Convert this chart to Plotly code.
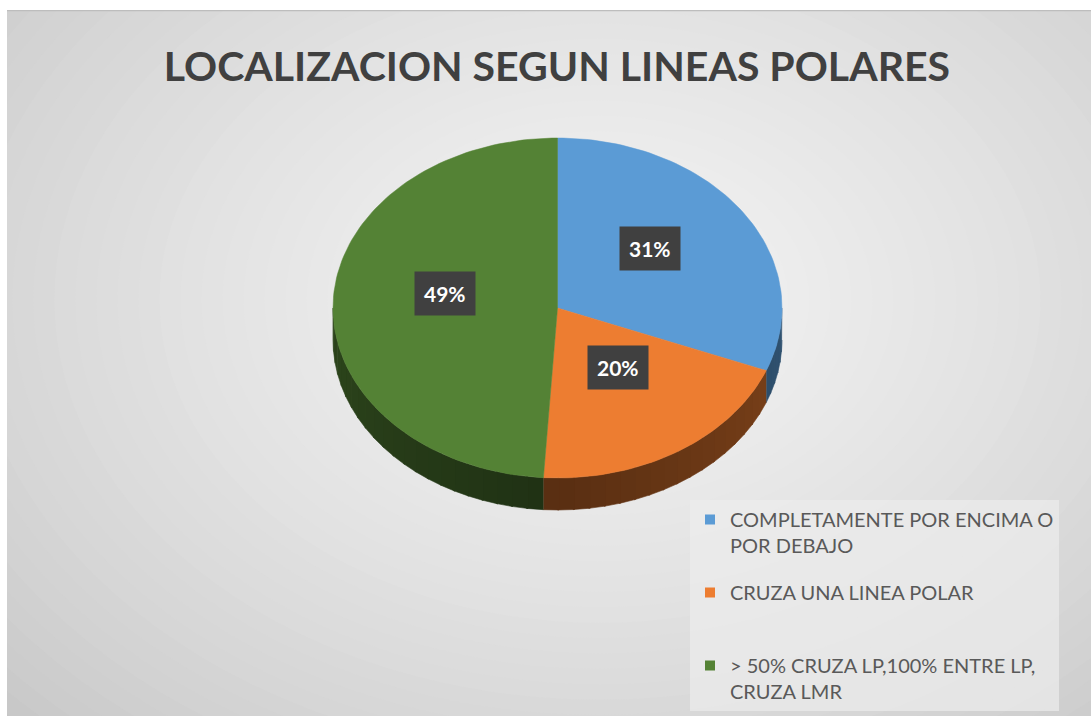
import math
import plotly.graph_objects as go

# ---- data ----
categories = ["COMPLETAMENTE POR ENCIMA O<br>POR DEBAJO",
              "CRUZA UNA LINEA POLAR<br>\u00a0",
              "> 50% CRUZA LP,100% ENTRE LP,<br>CRUZA LMR"]
values = [31, 20, 49]
top_colors = ["#5B9BD5", "#ED7D31", "#548235"]
title_text = "LOCALIZACION SEGUN LINEAS POLARES"

# ---- geometry (pixel-like axes) ----
W, H = 1091, 717
L, T = 7, 10
cx, cy, rx, ry, depth = 557.5, 308.0, 224.5, 170.0, 32.0


def pt(theta_deg, dy=0.0):
    t = math.radians(theta_deg)
    return cx + rx * math.sin(t), cy - ry * math.cos(t) + dy


def shade(hex_color, f):
    h = hex_color.lstrip("#")
    r, g, b = (int(h[i:i + 2], 16) for i in (0, 2, 4))
    return "rgb(%d,%d,%d)" % (r * f, g * f, b * f)


fig = go.Figure()

total = float(sum(values))
bounds = []
acc = 0.0
for v in values:
    a0 = acc / total * 360.0
    acc += v
    a1 = acc / total * 360.0
    bounds.append((a0, a1))

# sides (visible front half, 90..270 deg)
for (a0, a1), col in zip(bounds, top_colors):
    s0, s1 = max(a0, 90.0), min(a1, 270.0)
    if s1 <= s0:
        continue
    nb = max(1, int(math.ceil((s1 - s0) / 4.0)))
    step = (s1 - s0) / nb
    for k in range(nb):
        b0 = s0 + k * step
        b1 = b0 + step + 0.4 if k < nb - 1 else s1
        mid = (b0 + b1) / 2
        f = 0.38 + 0.16 * abs(mid - 180.0) / 90.0
        xs, ys = [], []
        m = 6
        for j in range(m + 1):
            x, y = pt(b0 + (b1 - b0) * j / m)
            xs.append(x); ys.append(y)
        for j in range(m, -1, -1):
            x, y = pt(b0 + (b1 - b0) * j / m, depth)
            xs.append(x); ys.append(y)
        fig.add_trace(go.Scatter(x=xs, y=ys, fill="toself", mode="lines",
                                 line=dict(width=0.6, color=shade(col, f)),
                                 fillcolor=shade(col, f), showlegend=False,
                                 hoverinfo="skip"))

# top faces
for (a0, a1), col, name, v in zip(bounds, top_colors, categories, values):
    n = max(8, int((a1 - a0) / 1.5))
    xs, ys = [cx], [cy]
    for j in range(n + 1):
        x, y = pt(a0 + (a1 - a0) * j / n)
        xs.append(x); ys.append(y)
    xs.append(cx); ys.append(cy)
    fig.add_trace(go.Scatter(x=xs, y=ys, fill="toself", mode="lines",
                             line=dict(width=0.5, color=col), fillcolor=col,
                             showlegend=False, name=name.replace("<br>", " ").strip(),
                             hoverinfo="name"))

# legend entries
for i, (name, col) in enumerate(zip(categories, top_colors)):
    fig.add_trace(go.Scatter(x=[None], y=[None], mode="markers", name=name,
                             legendgroup="g%d" % i,
                             marker=dict(symbol="square", size=10, color=col)))

# data labels
for (a0, a1), v in zip(bounds, values):
    x, y = pt((a0 + a1) / 2.0)
    lx, ly = cx + (x - cx) * 0.5, cy + (y - cy) * 0.5
    fig.add_annotation(x=lx, y=ly, yshift=12, text="<b>%d%%</b>" % round(v / total * 100),
                       showarrow=False, bgcolor="#404040", borderpad=9,
                       font=dict(family="Lato, Open Sans, sans-serif", size=21, color="white"))

# radial background gradient (styling)
shapes = [dict(type="rect", xref="x", yref="y", x0=0, x1=W, y0=0, y1=H,
               fillcolor="#c4c4c4", line=dict(width=0), layer="below")]
N = 40
gcx, gcy = 600, 300
for i in range(N):
    t = i / (N - 1)
    Rx = 820 * (1 - t) + 20
    Ry = 600 * (1 - t) + 15
    g = int(198 + (246 - 198) * (t ** 0.8))
    shapes.append(dict(type="circle", xref="x", yref="y",
                       x0=gcx - Rx, x1=gcx + Rx, y0=gcy - Ry, y1=gcy + Ry,
                       fillcolor="rgb(%d,%d,%d)" % (g, g, g), line=dict(width=0), layer="below"))
shapes.append(dict(type="line", xref="x", yref="y", x0=L, x1=W, y0=T + 0.5, y1=T + 0.5,
                   line=dict(color="#bdbdbd", width=1.5), layer="above"))

fig.update_layout(
    width=W, height=H,
    margin=dict(l=L, r=0, t=T, b=1),
    paper_bgcolor="white", plot_bgcolor="#e8e8e8",
    xaxis=dict(range=[L, W], visible=False, fixedrange=True),
    yaxis=dict(range=[H - 1, T], visible=False, fixedrange=True),
    shapes=shapes,
    title=dict(text="<b>%s</b>" % title_text, x=0.5105, xanchor="center",
               y=1 - 67 / H, yanchor="middle", yref="container",
               font=dict(family="Lato, Open Sans, sans-serif", size=41, color="#404040")),
    legend=dict(x=(690 - L) / (W - L), y=1 - (500 - T) / (H - 1 - T), xanchor="left", yanchor="top",
                bgcolor="rgba(236,236,236,0.7)", valign="top", traceorder="grouped",
                font=dict(family="Lato, Open Sans, sans-serif", size=20, color="#595959"),
                tracegroupgap=18, itemwidth=30),
    showlegend=True,
    font=dict(family="Lato, Open Sans, sans-serif"),
)

fig.write_html("out.html", config={"displayModeBar": False},
               post_script="document.body.style.margin='0';document.body.style.overflow='hidden';")
